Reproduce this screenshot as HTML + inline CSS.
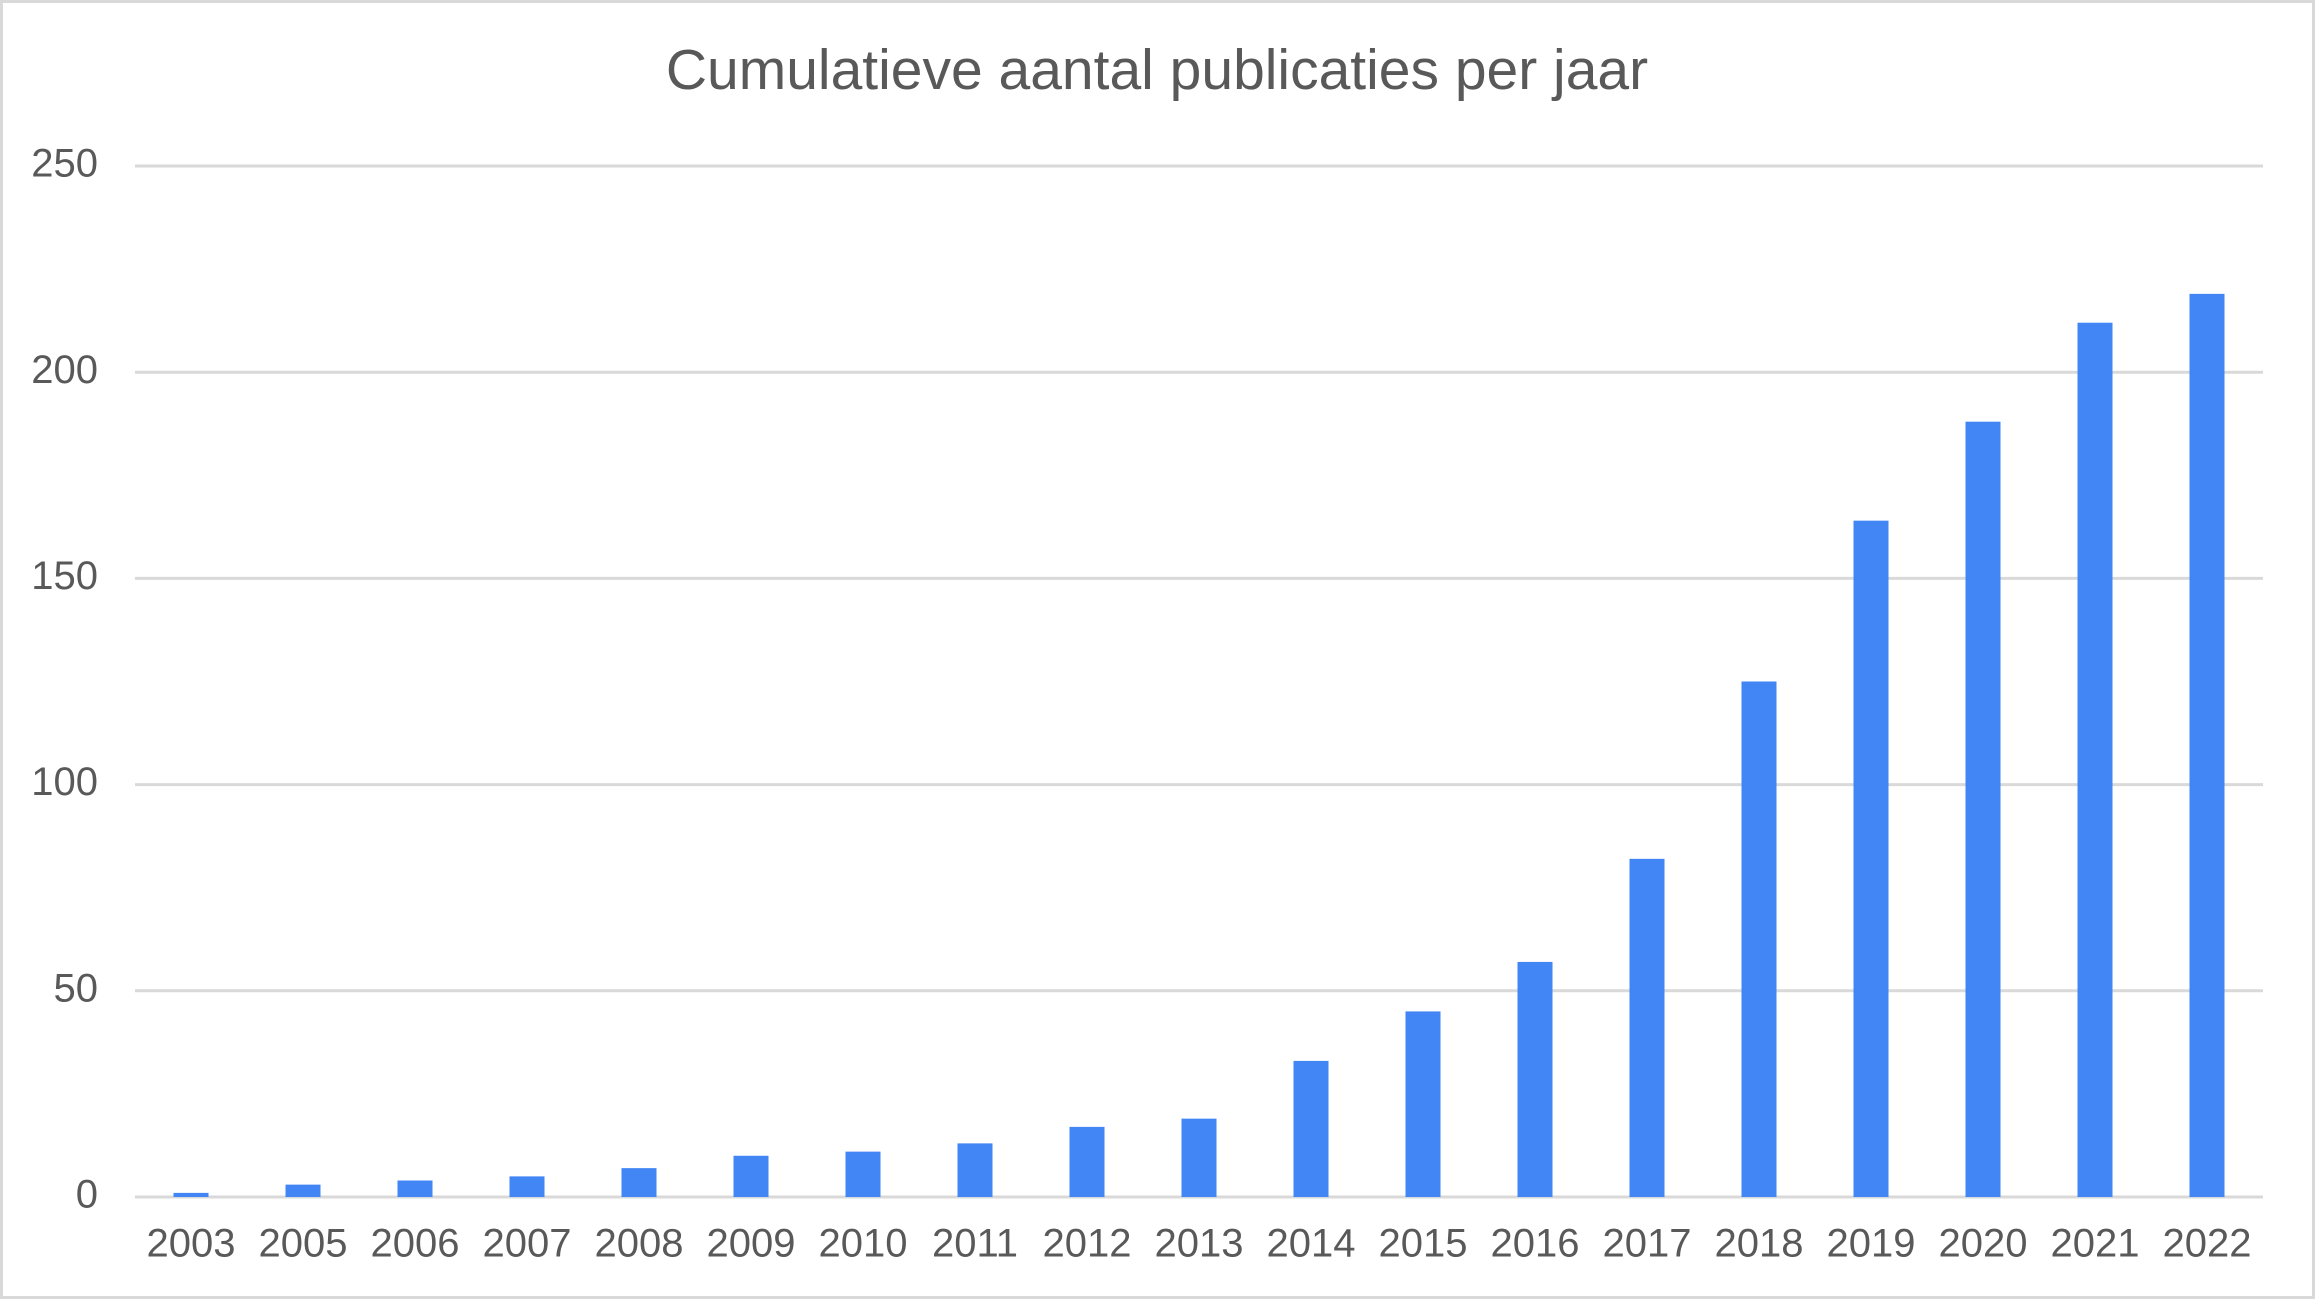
<!DOCTYPE html>
<html><head><meta charset="utf-8"><style>
html,body{margin:0;padding:0;background:#fff;}
svg{display:block;font-family:"Liberation Sans",Arial,sans-serif;}
</style></head><body>
<svg id="chart" width="2315" height="1299" viewBox="0 0 2315 1299">
<rect x="1.5" y="1.5" width="2312" height="1296" fill="#fff" stroke="#d9d9d9" stroke-width="3"/>
<text x="1157" y="74" text-anchor="middle" dominant-baseline="middle" font-size="57" fill="#595959">Cumulatieve aantal publicaties per jaar</text>
<g id="grid"></g><g id="bars"></g><g id="xlabels"></g><g id="ylabels"></g>
</svg>
<script>
const categories=["2003","2005","2006","2007","2008","2009","2010","2011","2012","2013","2014","2015","2016","2017","2018","2019","2020","2021","2022"];
const values=[1,3,4,5,7,10,11,13,17,19,33,45,57,82,125,164,188,212,219];
const yTicks=[0,50,100,150,200,250];
const NS="http://www.w3.org/2000/svg";
const left=135,right=2263,top0=166,base=1197,yMax=250;
const y=v=>base-(v/yMax)*(base-top0);
const band=(right-left)/categories.length;
const x=i=>left+band*(i+0.5);
const bw=35;
function mk(t,a,p){const e=document.createElementNS(NS,t);for(const k in a)e.setAttribute(k,a[k]);p.appendChild(e);return e;}
const g=document.getElementById('grid'),b=document.getElementById('bars'),xl=document.getElementById('xlabels'),yl=document.getElementById('ylabels');
yTicks.forEach(t=>{
 const l=mk('line',{x1:left,x2:right,y1:y(t),y2:y(t),stroke:'#d9d9d9','stroke-width':3},g);
 
 
 const tx=mk('text',{x:98,y:y(t),'text-anchor':'end','dominant-baseline':'middle','font-size':40,fill:'#595959'},yl);
 tx.textContent=t;
 
 
});
categories.forEach((c,i)=>{
 const r=mk('rect',{x:x(i)-bw/2,y:y(values[i]),width:bw,height:base-y(values[i]),fill:'#4285f4'},b);
 
 
 const tx=mk('text',{x:x(i),y:1246,'text-anchor':'middle','dominant-baseline':'middle','font-size':40,fill:'#595959'},xl);
 tx.textContent=c;
 
 
});
</script>
</body></html>
